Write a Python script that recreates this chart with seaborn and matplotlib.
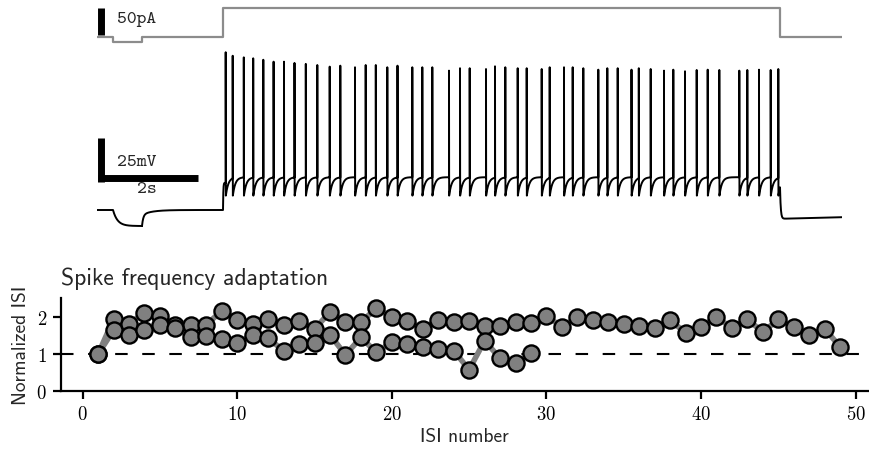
import numpy as np
import pandas as pd
import matplotlib
matplotlib.use("Agg")
import matplotlib.pyplot as plt
import seaborn as sns

# ---------------- stimulation protocol ----------------
protocol_times = [0.0, 0.32, 0.90, 2.52, 13.66, 14.90]   # s
protocol_levels = [0.0, -8.0, 0.0, 55.0, 0.0]           # pA, held between successive times

# ---------------- recorded action potentials ----------------
spike_times = [2.574, 2.714, 2.936, 3.124, 3.326, 3.532, 3.740, 3.950, 4.176, 4.406,
               4.654, 4.866, 5.160, 5.374, 5.576, 5.806, 6.010, 6.306, 6.506, 6.706,
               7.040, 7.260, 7.454, 7.780, 7.960, 8.166, 8.414, 8.594, 8.894, 9.054,
               9.340, 9.514, 9.726, 10.026, 10.206, 10.414, 10.690, 10.836, 11.074, 11.340,
               11.526, 11.760, 11.994, 12.214, 12.446, 12.846, 13.006, 13.240, 13.474, 13.626]
spike_peaks = [28.6, 26.4, 25.4, 24.8, 23.9, 22.7, 22.7, 21.9, 21.3, 20.6,
               19.6, 20.2, 19.2, 20.6, 20.6, 19.2, 20.2, 19.2, 19.2, 19.2,
               17.1, 18.6, 18.6, 18.1, 19.8, 19.2, 18.6, 18.6, 18.1, 19.2,
               19.2, 19.2, 18.6, 17.7, 18.6, 18.6, 17.7, 18.6, 18.1, 17.1,
               17.7, 16.7, 17.5, 17.7, 17.5, 17.1, 17.5, 17.7, 17.5, 18.1]   # mV

v_rest = -70.0       # resting potential (mV)
v_hyper = -80.0      # steady state during the negative pulse
v_onset = -53.0      # depolarisation before the first spike
v_plateau = -49.5    # level approached between spikes
v_ahp = -61.0        # after-hyperpolarisation trough
v_after = -75.5      # level after the step ends

# ---------------- spike frequency adaptation ----------------
isi_cell_a = [1.00, 1.95, 1.82, 2.12, 2.02, 1.80, 1.79, 1.79, 2.18, 1.93,
              1.82, 1.95, 1.80, 1.91, 1.68, 2.14, 1.88, 1.86, 2.25, 2.00,
              1.91, 1.68, 1.93, 1.86, 1.90, 1.77, 1.77, 1.86, 1.84, 2.04,
              1.73, 2.00, 1.93, 1.86, 1.82, 1.77, 1.70, 1.93, 1.57, 1.74,
              2.00, 1.71, 1.95, 1.59, 1.95, 1.74, 1.53, 1.68, 1.20]
isi_cell_b = [1.00, 1.65, 1.53, 1.65, 1.79, 1.72, 1.45, 1.50, 1.41, 1.29,
              1.53, 1.43, 1.09, 1.27, 1.29, 1.52, 0.98, 1.45, 1.05, 1.32,
              1.27, 1.18, 1.14, 1.09, 0.58, 1.36, 0.89, 0.75, 1.02]
x_ticks = [0, 10, 20, 30, 40, 50]
y_ticks = [0, 1, 2]


def membrane_trace(dt=0.002):
    """Piecewise membrane potential built around the protocol and spike list."""
    t_on_h, t_off_h, t_on, t_off, t_end = protocol_times[1:]
    ts, vs = [], []

    t = np.arange(0.0, t_on_h, dt)
    ts.append(t); vs.append(np.full_like(t, v_rest))

    # negative pulse: slow charging towards v_hyper
    t = np.arange(t_on_h, t_off_h, dt)
    v = v_rest + (v_hyper - v_rest) * (1 - np.exp(-(t - t_on_h) / 0.09))
    ts.append(t); vs.append(v)
    dv = v[-1] - v_rest

    # recovery: fast rebound followed by a slower tail
    t = np.arange(t_off_h, t_on, dt)
    s = t - t_off_h
    ts.append(t); vs.append(v_rest + dv * (0.7 * np.exp(-s / 0.025) + 0.3 * np.exp(-s / 0.2)))

    t = np.arange(t_on, spike_times[0], dt / 2)
    ts.append(t); vs.append(v_rest + (v_onset - v_rest) * (1 - np.exp(-(t - t_on) / 0.006)))

    bounds = spike_times[1:] + [t_off]
    for ts_k, peak, t_next in zip(spike_times, spike_peaks, bounds):
        ts.append(np.array([ts_k, ts_k])); vs.append(np.array([vs[-1][-1], peak]))
        t0 = ts_k + 0.003
        t = np.arange(t0, t_next, dt)
        ts.append(t)
        vs.append(v_plateau - (v_plateau - v_ahp) * np.exp(-(t - t0) / 0.05))
    v_off = vs[-1][-1]

    t = np.arange(t_off, t_end + dt, dt)
    v = v_after + (v_off - v_after) * np.exp(-(t - t_off) / 0.015) + 1.0 * (t - t_off) / (t_end - t_off)
    ts.append(t); vs.append(v)
    return np.concatenate(ts), np.concatenate(vs)


sns.set_style("ticks")
plt.rcParams["axes.formatter.use_mathtext"] = True

W, H = 870, 452
fig = plt.figure(figsize=(W / 100, H / 100), dpi=100)


def px_axes(x0, y0, x1, y1):
    return fig.add_axes([x0 / W, 1 - y1 / H, (x1 - x0) / W, (y1 - y0) / H])


trace_x0, trace_x1 = 97, 842
t_span = protocol_times[-1] - protocol_times[0]
label_font = dict(family="cmtt10", fontsize=13.5)

# ---------------- current trace ----------------
ax_i = px_axes(trace_x0, 0, trace_x1, 50)
px_per_pa = 0.54
i_bottom = -(50 - 38.3) / px_per_pa
ax_i.set_ylim(i_bottom, i_bottom + 50 / px_per_pa)
ax_i.set_xlim(0, t_span)
cur = pd.DataFrame({"t": protocol_times, "I": protocol_levels + [protocol_levels[-1]]})
sns.lineplot(data=cur, x="t", y="I", ax=ax_i, color="#8c8c8c", lw=1.6,
             drawstyle="steps-post", estimator=None, sort=False)
ax_i.plot([0.09, 0.09], [5, 55], color="black", lw=5, solid_capstyle="butt")
ax_i.text(0.40, 34, "50pA", ha="left", va="center", **label_font)
ax_i.axis("off")

# ---------------- membrane potential ----------------
ax_v = px_axes(trace_x0, 0, trace_x1, 240)
px_per_mv = 1.6
v_bottom = v_rest - (240 - 211) / px_per_mv
ax_v.set_ylim(v_bottom, v_bottom + 240 / px_per_mv)
ax_v.set_xlim(0, t_span)
tt, vv = membrane_trace()
trace = pd.DataFrame({"t": tt, "V": vv})
sns.lineplot(data=trace, x="t", y="V", ax=ax_v, color="black", lw=1.4,
             estimator=None, sort=False)
# scale bars: 25 mV / 2 s
ax_v.plot([0.09, 0.09], [-25, -52.2], color="black", lw=5, solid_capstyle="butt")
ax_v.plot([0.02, 2.02], [-50, -50], color="black", lw=5, solid_capstyle="butt")
ax_v.text(0.40, -39.5, "25mV", ha="left", va="center", **label_font)
ax_v.text(1.0, -56.3, "2s", ha="center", va="center", **label_font)
ax_v.axis("off")

# ---------------- normalized ISI ----------------
ax = px_axes(61, 299, 868, 392)
isi = pd.concat([
    pd.DataFrame({"isi": np.arange(1, len(isi_cell_a) + 1), "norm": isi_cell_a, "cell": "a"}),
    pd.DataFrame({"isi": np.arange(1, len(isi_cell_b) + 1), "norm": isi_cell_b, "cell": "b"}),
], ignore_index=True)

ax.axhline(1.0, color="black", lw=1.5, ls=(0, (6, 7)), zorder=1)
sns.lineplot(data=isi, x="isi", y="norm", units="cell", estimator=None, ax=ax,
             color="#808080", lw=4, zorder=2, legend=False)
sns.scatterplot(data=isi, x="isi", y="norm", ax=ax, s=135, color="#808080",
                edgecolor="black", linewidth=1.7, zorder=3, legend=False)

ax.set_xlim(-1.4, 50.8)
ax.set_ylim(0, 2.52)
ax.set_xticks(x_ticks)
ax.set_yticks(y_ticks)
for lab in ax.get_xticklabels() + ax.get_yticklabels():
    lab.set_family("cmr10")
    lab.set_fontsize(13.5)
ax.tick_params(direction="out", length=6, width=1.6, colors="black", pad=4)
for side in ("left", "bottom"):
    ax.spines[side].set_linewidth(1.6)
    ax.spines[side].set_color("black")
sns.despine(ax=ax)
ax.set_xlabel("ISI number", family="cmss10", fontsize=14, labelpad=3)
ax.set_ylabel("Normalized ISI", family="cmss10", fontsize=14, labelpad=5)
ax.set_title("Spike frequency adaptation", family="cmss10", fontsize=17,
             loc="left", pad=10)

fig.savefig("out.png", dpi=100)
